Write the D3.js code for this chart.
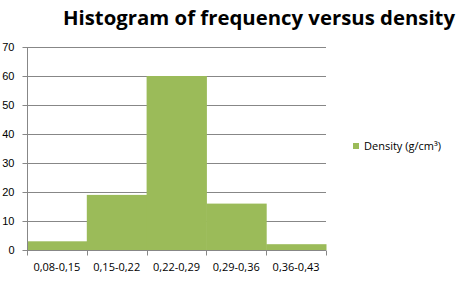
<!DOCTYPE html>
<meta charset="utf-8">
<script src="https://d3js.org/d3.v7.min.js"></script>
<style>
  body { margin: 0; background: #fff; }
  svg { font-family: "Open Sans", "DejaVu Sans", sans-serif; }
</style>
<div id="chart"></div>
<script>
// histogram data
var categories = ["0,08-0,15", "0,15-0,22", "0,22-0,29", "0,29-0,36", "0,36-0,43"]
var frequency = [3, 19, 60, 16, 2]
var yTicks = [0, 10, 20, 30, 40, 50, 60, 70]

var width = 470, height = 285
var plot = {left: 27, right: 326, top: 47, bottom: 250}

var svg = d3.select("#chart").append("svg")
  .attr("width", width)
  .attr("height", height)

var x = d3.scaleBand()
  .domain(categories)
  .range([plot.left, plot.right])
  .padding(0)

var y = d3.scaleLinear()
  .domain([0, 70])
  .range([plot.bottom, plot.top])

// gridlines
svg.append("g")
  .selectAll("line")
  .data(yTicks.slice(1))
  .enter()
  .append("line")
    .attr("x1", plot.left)
    .attr("x2", plot.right)
    .attr("y1", function(d){ return Math.round(y(d)) + 0.5 })
    .attr("y2", function(d){ return Math.round(y(d)) + 0.5 })
    .attr("stroke", "#878787")
    .attr("stroke-width", 1)

// bars
svg.append("g")
  .selectAll("rect")
  .data(frequency)
  .enter()
  .append("rect")
    .attr("x", function(d, i){ return x(categories[i]) })
    .attr("width", x.bandwidth() + 0.5)
    .attr("y", function(d){ return y(d) })
    .attr("height", function(d){ return y(0) - y(d) })
    .attr("fill", "#9bbb59")

// y axis
var yAxis = svg.append("g")
  .attr("transform", "translate(" + (plot.left + 0.5) + ",0)")
  .call(d3.axisLeft(y).tickValues(yTicks).tickSize(5))
yAxis.select(".domain").attr("stroke", "#878787").attr("d", "M0," + plot.top + "V" + plot.bottom)
yAxis.selectAll(".tick line").attr("stroke", "#878787")
yAxis.selectAll(".tick text")
  .attr("x", -13)
  .attr("fill", "#000")
  .style("font-size", "11px")

// x axis
var xAxis = svg.append("g")
  .attr("transform", "translate(0," + (plot.bottom + 0.5) + ")")
xAxis.append("line")
  .attr("x1", plot.left).attr("x2", plot.right)
  .attr("stroke", "#878787")
xAxis.selectAll("line.tk")
  .data(d3.range(categories.length + 1))
  .enter()
  .append("line")
    .attr("class", "tk")
    .attr("x1", function(i){ return Math.round(plot.left + i * x.step()) + 0.5 })
    .attr("x2", function(i){ return Math.round(plot.left + i * x.step()) + 0.5 })
    .attr("y1", 0).attr("y2", 5)
    .attr("stroke", "#878787")
xAxis.selectAll("text")
  .data(categories)
  .enter()
  .append("text")
    .attr("x", function(d){ return x(d) + x.bandwidth() / 2 })
    .attr("y", 20)
    .attr("text-anchor", "middle")
    .style("font-size", "11px")
    .text(function(d){ return d })

// title
svg.append("text")
  .attr("x", 259)
  .attr("y", 25)
  .attr("text-anchor", "middle")
  .style("font-size", "20px")
  .style("font-weight", "bold")
  .attr("textLength", 392)
  .attr("lengthAdjust", "spacingAndGlyphs")
  .text("Histogram of frequency versus density")

// legend
var legend = svg.append("g").attr("transform", "translate(353,143)")
legend.append("rect")
  .attr("width", 6).attr("height", 6)
  .attr("fill", "#9bbb59")
legend.append("text")
  .attr("x", 11)
  .attr("y", 7)
  .style("font-size", "11px")
  .text("Density (g/cm³)")
</script>
